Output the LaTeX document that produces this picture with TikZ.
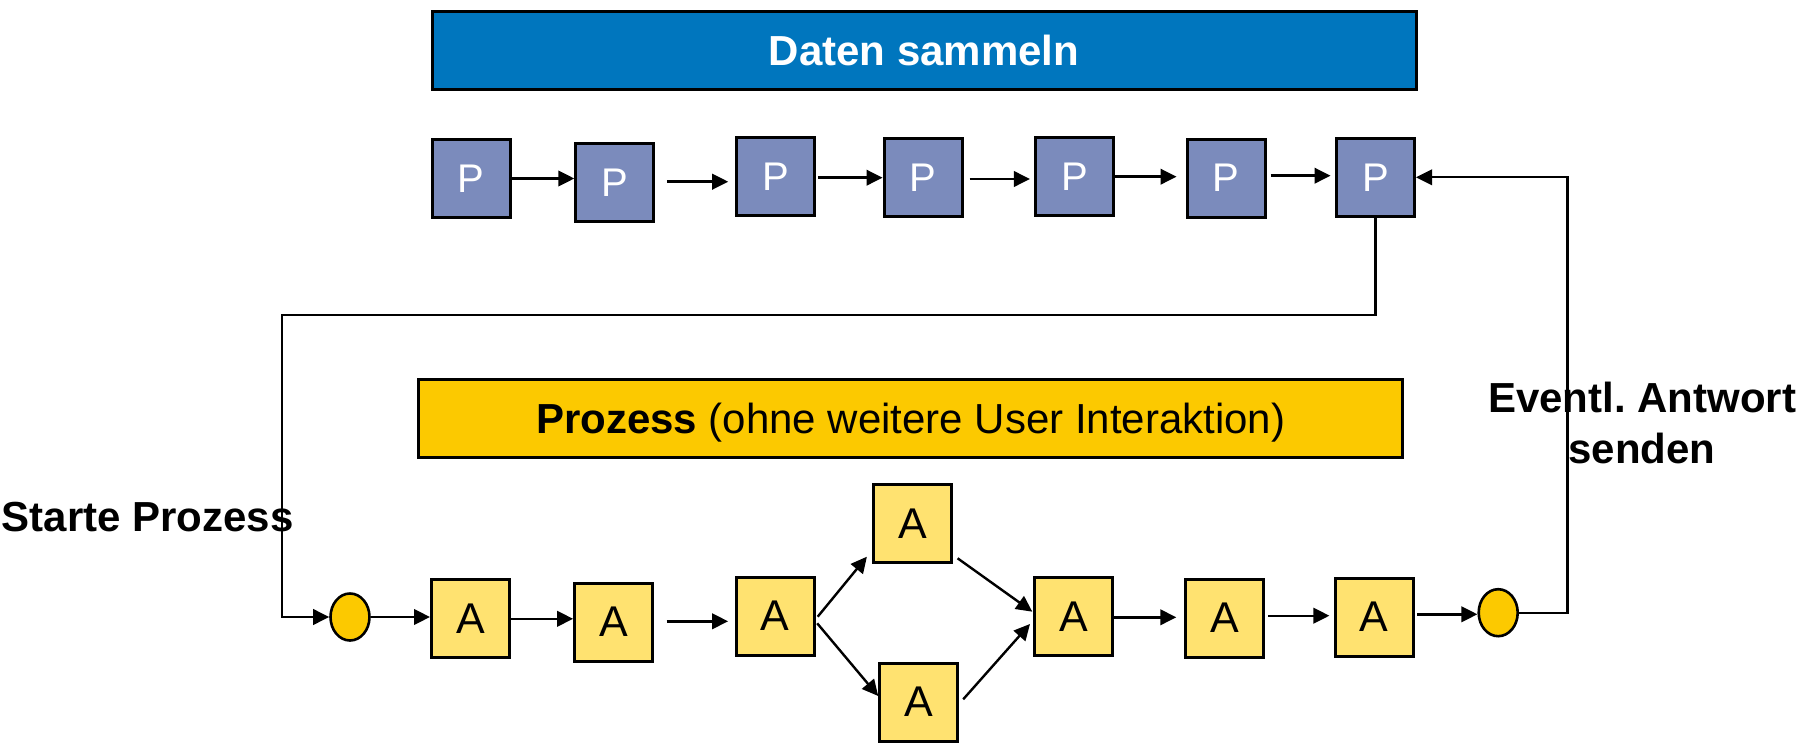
\documentclass[tikz,border=0pt]{standalone}
\usepackage{fontspec}
\setmainfont{Liberation Sans}
\usetikzlibrary{arrows.meta,shapes.geometric}
\definecolor{barblue}{RGB}{0,118,190}
\definecolor{pfill}{RGB}{123,139,188}
\definecolor{baryellow}{RGB}{252,201,0}
\definecolor{afill}{RGB}{255,226,112}
\tikzset{
  box/.style={draw=black, line width=3pt, minimum width=78pt, minimum height=78pt, inner sep=0pt},
  pbox/.style={box, fill=pfill, text=white, font=\fontsize{40}{48}\selectfont},
  abox/.style={box, fill=afill, font=\fontsize{43}{50}\selectfont},
  event/.style={ellipse, draw=black, line width=2.6pt, fill=baryellow, minimum width=39pt, minimum height=47pt, inner sep=0pt},
  bar/.style={draw=black, line width=3pt, minimum width=984pt, minimum height=77.6pt, inner sep=0pt, font=\fontsize{42}{50}\selectfont},
  arr/.style={line width=2.4pt, -{Triangle[length=16pt,width=15.5pt]}},
  lbl/.style={font=\fontsize{42}{50.6}\selectfont\bfseries, inner sep=0pt},
}
\begin{document}
\begin{tikzpicture}[x=1pt,y=-1pt]
\useasboundingbox (0,0) rectangle (1816,743);

% headers
\node[bar, fill=barblue, text=white, font=\fontsize{42}{50}\selectfont\bfseries] (hdata) at (924,50.7) {Daten sammeln};
\node[bar, fill=baryellow, text depth=0pt] (hproc) at (910.7,418.7) {\textbf{Prozess} (ohne weitere User Interaktion)};

% data collection steps
\node[pbox] (P1) at (471,178.5) {P};
\node[pbox] (P2) at (614.8,182.5) {P};
\node[pbox] (P3) at (775.7,176.5) {P};
\node[pbox] (P4) at (923,177.5) {P};
\node[pbox] (P5) at (1074.4,176.7) {P};
\node[pbox] (P6) at (1226,178.2) {P};
\node[pbox] (P7) at (1375.5,177.3) {P};

% process activities
\node[event] (E1) at (350,617) {};
\node[abox] (A1) at (470.5,618.8) {A};
\node[abox] (A2) at (613.6,622.2) {A};
\node[abox] (A3) at (775.2,616) {A};
\node[abox] (At) at (912.7,523.8) {A};
\node[abox] (Ab) at (918.7,702.2) {A};
\node[abox] (Am) at (1073.5,616.3) {A};
\node[abox] (A6) at (1224.8,618.2) {A};
\node[abox] (A7) at (1374.3,617) {A};
\node[event] (E2) at (1498.2,612.7) {};

% labels (base anchor of a two-line node sits on its last line)
\node[lbl, anchor=base west] (tstart) at (1.5,531.7) {Starte Prozess};
\node[lbl, anchor=base, align=center] (tanswer) at (1642,463.3) {Eventl.\ Antwort\\senden};

% routing corners
\coordinate (c1) at (281.6,315.3);
\coordinate (c2) at (1567.5,177.3);

% data chain
\draw[arr] (P1.east) -- (P1.east -| P2.west);
\draw[arr] ([xshift=11.5pt,yshift=0.8pt]P2.east) -- ([xshift=-7pt,yshift=0.8pt]P2.east -| P3.west);
\draw[arr] ([xshift=2pt,yshift=-1.2pt]P3.east) -- ([yshift=-1.2pt]P3.east -| P4.west);
\draw[arr] ([xshift=6pt,yshift=-1.5pt]P4.east) -- ([xshift=-4pt,yshift=-1.5pt]P4.east -| P5.west);
\draw[arr] (P5.east) -- ([xshift=-9pt]P5.east -| P6.west);
\draw[arr] ([xshift=4pt,yshift=2.5pt]P6.east) -- ([xshift=-4.5pt,yshift=2.5pt]P6.east -| P7.west);

% start and answer links
\draw[arr, line width=2.2pt] (P7.south) |- (c1) |- (E1.west);
\draw[arr, line width=2.2pt] (E2.east) -| (c2) -- (P7.east);

% process chain
\draw[arr] (E1.east) -- (E1.east -| A1.west);
\draw[arr] (A1.east) -- (A1.east -| A2.west);
\draw[arr] ([xshift=12.4pt,yshift=0.9pt]A2.east) -- ([xshift=-6.6pt,yshift=0.9pt]A2.east -| A3.west);
\draw[arr] ([xshift=2pt,yshift=-0.7pt]A3.east) -- ([xshift=-5.3pt,yshift=7.6pt]At.south west);
\draw[arr] ([xshift=1.5pt,yshift=-7.3pt]A3.east) -- ([yshift=6.2pt]Ab.west);
\draw[arr] ([xshift=4.4pt,yshift=6pt]At.south east) -- ([xshift=-0.7pt,yshift=4.6pt]Am.west);
\draw[arr] ([xshift=4pt,yshift=2.9pt]Ab.east) -- ([xshift=-3pt,yshift=-7.7pt]Am.west);
\draw[arr] ([yshift=-1pt]Am.east) -- ([xshift=-8pt,yshift=-1pt]Am.east -| A6.west);
\draw[arr] ([xshift=3pt,yshift=2.5pt]A6.east) -- ([xshift=-4.4pt,yshift=2.5pt]A6.east -| A7.west);
\draw[arr] ([xshift=2.5pt,yshift=2.7pt]A7.east) -- ([yshift=2.7pt]A7.east -| E2.west);
\end{tikzpicture}
\end{document}
